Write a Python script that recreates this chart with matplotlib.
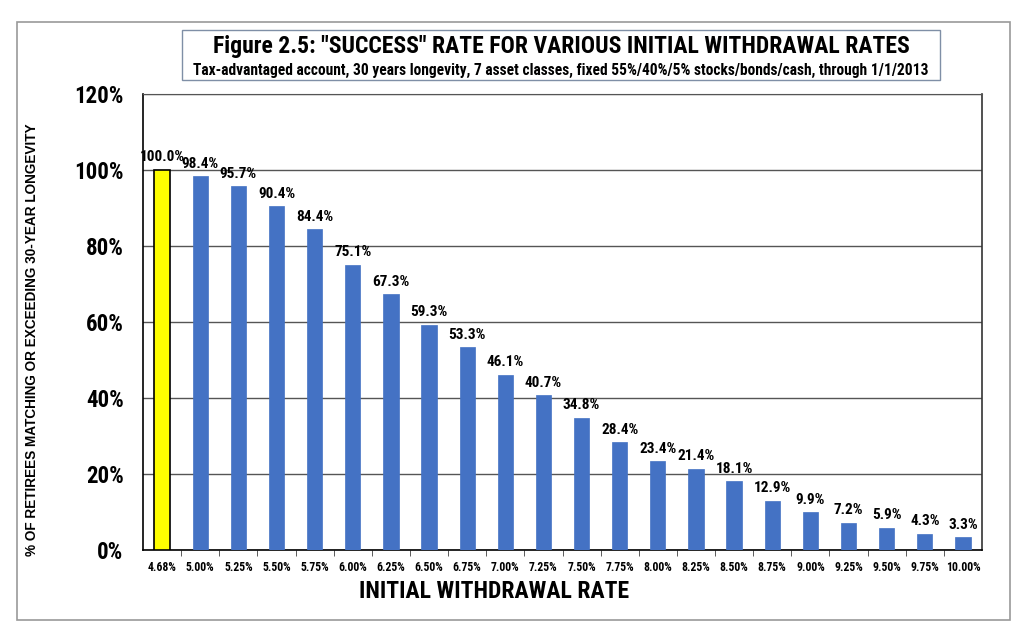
import matplotlib
matplotlib.use("Agg")
import matplotlib.pyplot as plt
from matplotlib.patches import Rectangle

NARROW = ['Roboto Condensed', 'DejaVu Sans']

categories = ["4.68%", "5.00%", "5.25%", "5.50%", "5.75%", "6.00%", "6.25%", "6.50%",
              "6.75%", "7.00%", "7.25%", "7.50%", "7.75%", "8.00%", "8.25%", "8.50%",
              "8.75%", "9.00%", "9.25%", "9.50%", "9.75%", "10.00%"]
values = [100.0, 98.4, 95.7, 90.4, 84.4, 75.1, 67.3, 59.3, 53.3, 46.1, 40.7, 34.8,
          28.4, 23.4, 21.4, 18.1, 12.9, 9.9, 7.2, 5.9, 4.3, 3.3]
yticks = [0, 20, 40, 60, 80, 100, 120]

fig = plt.figure(figsize=(10.24, 6.34), dpi=100)
W, H = 1024, 634
ax = fig.add_axes([143 / W, 1 - 550 / H, (982 - 143) / W, (550 - 94) / H])

x = list(range(len(categories)))
colors = ['#FFFF00'] + ['#4472C4'] * (len(values) - 1)
edges = ['black'] + ['#4472C4'] * (len(values) - 1)
lws = [1.2] + [0.5] * (len(values) - 1)
ax.bar(x, values, width=0.4, color=colors, edgecolor=edges, linewidth=lws, zorder=3)

for xi, v in zip(x, values):
    ax.annotate(f"{v:.1f}%", (xi, v), xytext=(0, 4), textcoords='offset points',
                ha='center', va='bottom', fontsize=11, fontweight='bold', family=NARROW)

ax.set_xlim(-0.5, len(categories) - 0.5)
ax.set_ylim(0, 120)
ax.set_yticks(yticks)
ax.set_yticklabels([f"{t}%" for t in yticks], fontsize=16.5, fontweight='bold', family=NARROW)
ax.set_xticks(x)
ax.set_xticklabels(categories, fontsize=8.5, fontweight='bold', family=NARROW)
ax.tick_params(axis='x', length=0, pad=8)
ax.tick_params(axis='y', length=0, pad=14)
ax.set_xticks([i + 0.5 for i in x[:-1]], minor=True)
ax.tick_params(axis='x', which='minor', length=4, direction='out', color='#404040')
ax.yaxis.grid(True, color='#555555', linewidth=1.0, zorder=0)
for s in ['left', 'bottom']:
    ax.spines[s].set_color('black')
    ax.spines[s].set_linewidth(1.2)
ax.spines['top'].set_color('#555555')
ax.spines['right'].set_color('#333333')
ax.spines['right'].set_linewidth(1.2)

fig.text(494 / W, 1 - 592 / H, "INITIAL WITHDRAWAL RATE", ha='center', va='center',
         fontsize=17, fontweight='bold', family=NARROW)
fig.text(32 / W, 1 - 340 / H, "% OF RETIREES MATCHING OR EXCEEDING 30-YEAR LONGEVITY",
         rotation=90, ha='center', va='center', fontsize=9.8, fontweight='bold',
         family=['Liberation Sans', 'DejaVu Sans'])

# outer frame
fig.patches.append(Rectangle((17 / W, 1 - 620 / H), (1010 - 17) / W, (620 - 22) / H,
                             transform=fig.transFigure, fill=False, edgecolor='#999999',
                             linewidth=1.2))
# title box
fig.patches.append(Rectangle((182 / W, 1 - 80 / H), (940 - 182) / W, (80 - 30) / H,
                             transform=fig.transFigure, fill=False, edgecolor='#7F8FA6',
                             linewidth=1.0))
fig.text(561 / W, 1 - 47 / H, 'Figure 2.5: "SUCCESS" RATE FOR VARIOUS INITIAL WITHDRAWAL RATES',
         ha='center', va='center', fontsize=17, fontweight='bold', family=NARROW)
fig.text(561 / W, 1 - 70 / H,
         'Tax-advantaged account, 30 years longevity, 7 asset classes, fixed 55%/40%/5% stocks/bonds/cash, through 1/1/2013',
         ha='center', va='center', fontsize=11.2, fontweight='bold', family=NARROW)

fig.savefig("out.png", dpi=100)
